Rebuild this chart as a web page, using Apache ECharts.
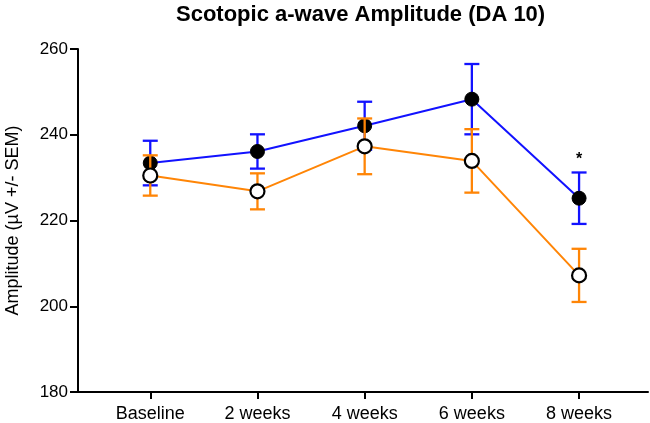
<!DOCTYPE html>
<html>
<head>
<meta charset="utf-8">
<script src="https://cdn.jsdelivr.net/npm/echarts@6/dist/echarts.min.js"></script>
<style>
html,body{margin:0;padding:0;background:#fff;}
#chart{width:650px;height:423px;}
</style>
</head>
<body>
<div id="chart"></div>
<script>
const categories = ['Baseline', '2 weeks', '4 weeks', '6 weeks', '8 weeks'];
const blueMean = [233.4, 236.1, 242.1, 248.3, 225.2];
const blueSem = [5.2, 4.0, 5.6, 8.2, 6.0];
const orangeMean = [230.5, 226.8, 237.3, 233.9, 207.2];
const orangeSem = [4.7, 4.2, 6.5, 7.4, 6.2];
const significance = ['', '', '', '', '*'];
const yTicks = [180, 200, 220, 240, 260];

const FONT = "'Liberation Sans', Arial, sans-serif";
const BLUE = '#1212ff';
const ORANGE = '#ff8506';
const catPos = categories.map((c, i) => i + 1);

function errData(mean, sem, sig) {
  return mean.map((m, i) => [catPos[i], m - sem[i], m + sem[i], sig ? sig[i] : '']);
}

function errRenderer(color) {
  return function (params, api) {
    const x = api.value(0);
    const lo = api.coord([x, api.value(1)]);
    const hi = api.coord([x, api.value(2)]);
    const half = 7.5;
    const style = { stroke: color, lineWidth: 2.3 };
    const children = [
      { type: 'line', shape: { x1: lo[0], y1: lo[1], x2: hi[0], y2: hi[1] }, style },
      { type: 'line', shape: { x1: lo[0] - half, y1: lo[1], x2: lo[0] + half, y2: lo[1] }, style },
      { type: 'line', shape: { x1: hi[0] - half, y1: hi[1], x2: hi[0] + half, y2: hi[1] }, style }
    ];
    const sig = api.value(3);
    if (sig) {
      children.push({
        type: 'text',
        style: { text: sig, x: hi[0], y: hi[1] - 13, fontSize: 16, fontFamily: FONT, fontWeight: 'bold', fill: '#000', align: 'center', verticalAlign: 'middle' }
      });
    }
    return { type: 'group', children };
  };
}

const chart = echarts.init(document.getElementById('chart'), null, { renderer: 'canvas' });
chart.setOption({
  animation: false,
  backgroundColor: '#fff',
  title: {
    text: 'Scotopic a-wave Amplitude (DA 10)',
    left: 176,
    top: 4,
    padding: 0,
    textStyle: { fontFamily: FONT, fontSize: 22, fontWeight: 'bold', color: '#000' }
  },
  grid: { left: 78, right: 2, top: 49, bottom: 31, containLabel: false, outerBoundsMode: 'none' },
  xAxis: {
    type: 'value',
    min: 0.326,
    max: 5.643,
    splitLine: { show: false },
    axisLine: { show: true, lineStyle: { color: '#000', width: 2 } },
    axisTick: { show: true, customValues: catPos, length: 7, lineStyle: { color: '#000', width: 2 } },
    axisLabel: {
      customValues: catPos,
      formatter: v => categories[Math.round(v) - 1],
      fontFamily: FONT, fontSize: 18, color: '#000', margin: 13
    }
  },
  yAxis: {
    type: 'value',
    min: yTicks[0],
    max: yTicks[yTicks.length - 1],
    interval: 20,
    name: 'Amplitude (µV +/- SEM)',
    nameLocation: 'middle',
    nameGap: 56,
    nameTextStyle: { fontFamily: FONT, fontSize: 18, color: '#000' },
    splitLine: { show: false },
    axisLine: { show: true, lineStyle: { color: '#000', width: 2 } },
    axisTick: { show: true, length: 8, lineStyle: { color: '#000', width: 2 } },
    axisLabel: { fontFamily: FONT, fontSize: 17, color: '#000', margin: 10 }
  },
  series: [
    {
      type: 'custom',
      name: 'blue-err',
      z: 2,
      renderItem: errRenderer(BLUE),
      data: errData(blueMean, blueSem, significance),
      encode: { x: 0, y: [1, 2] }
    },
    {
      type: 'line',
      name: 'blue',
      z: 3,
      data: blueMean.map((v, i) => [catPos[i], v]),
      symbol: 'circle',
      symbolSize: 14,
      lineStyle: { color: BLUE, width: 2 },
      itemStyle: { color: '#000', borderColor: '#000', borderWidth: 1 }
    },
    {
      type: 'custom',
      name: 'orange-err',
      z: 4,
      renderItem: errRenderer(ORANGE),
      data: errData(orangeMean, orangeSem, null),
      encode: { x: 0, y: [1, 2] }
    },
    {
      type: 'line',
      name: 'orange',
      z: 5,
      data: orangeMean.map((v, i) => [catPos[i], v]),
      symbol: 'circle',
      symbolSize: 14,
      lineStyle: { color: ORANGE, width: 2 },
      itemStyle: { color: '#fff', borderColor: '#000', borderWidth: 2.2 }
    }
  ]
});
</script>
</body>
</html>
